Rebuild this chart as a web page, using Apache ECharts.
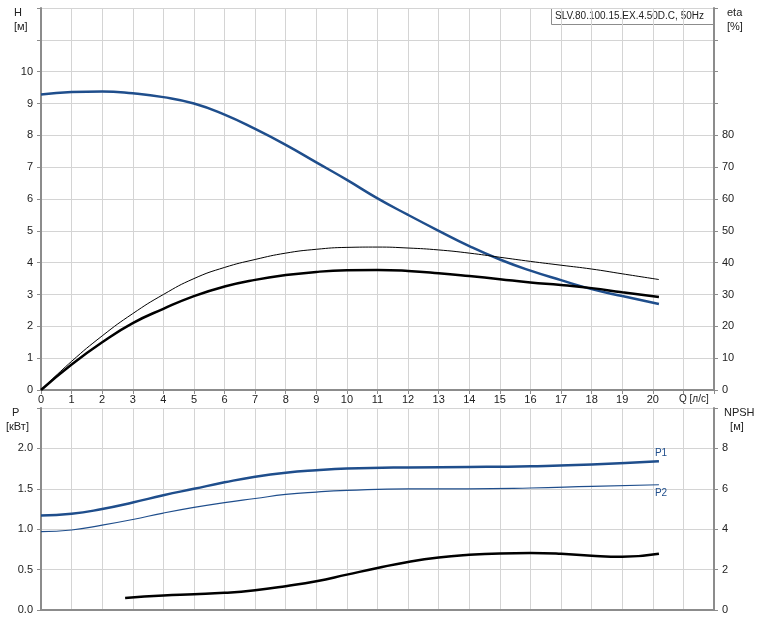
<!DOCTYPE html>
<html>
<head>
<meta charset="utf-8">
<script src="https://cdn.jsdelivr.net/npm/echarts@6/dist/echarts.min.js"></script>
<style>
  html, body { margin: 0; padding: 0; background: #fff; }
  #chart { width: 758px; height: 622px; }
</style>
</head>
<body>
<div id="chart"></div>
<script>
// Q [л/с] vs H [м]
const headCurve = [[0,9.28],[1,9.36],[2,9.38],[3,9.32],[4,9.2],[5,9.0],[6,8.65],[7,8.2],[8,7.7],[9,7.15],[10,6.6],[11,6.02],[12,5.5],[13,5.0],[14,4.52],[15,4.1],[16,3.75],[17,3.45],[18,3.17],[19,2.95],[20.2,2.7]];
// eta [%]
const etaThin = [[0,0],[1,9],[2,17],[3,24],[4,30],[5,35],[6,38.5],[7,41],[8,43],[9,44.2],[10,44.8],[11,44.9],[12,44.6],[13,44],[14,43],[15,41.7],[16,40.4],[17,39.2],[18,38],[19,36.5],[20.2,34.7]];
const etaThick = [[0,0],[1,8],[2,15],[3,21],[4,25.5],[5,29.5],[6,32.5],[7,34.6],[8,36.1],[9,37.1],[10,37.6],[11,37.7],[12,37.4],[13,36.7],[14,35.8],[15,34.8],[16,33.8],[17,33],[18,32],[19,30.7],[20.2,29.2]];
// P [кВт]
const p1Curve = [[0,1.17],[1,1.19],[2,1.25],[3,1.33],[4,1.42],[5,1.5],[6,1.58],[7,1.65],[8,1.7],[9,1.73],[10,1.75],[12,1.765],[14,1.77],[16,1.78],[18,1.8],[20.2,1.84]];
const p2Curve = [[0,0.97],[1,0.99],[2,1.05],[3,1.12],[4,1.2],[5,1.27],[6,1.33],[7,1.38],[8,1.43],[9,1.46],[10,1.48],[12,1.5],[14,1.5],[16,1.51],[18,1.53],[20.2,1.55]];
// NPSH [м]
const npshCurve = [[2.75,0.6],[4,0.72],[5,0.78],[6,0.85],[7,0.98],[8,1.18],[9,1.42],[10,1.75],[11,2.08],[12,2.38],[13,2.6],[14,2.73],[15,2.8],[16,2.82],[17,2.78],[18,2.68],[19,2.63],[20.2,2.78]];

const xTicksShown = [0,1,2,3,4,5,6,7,8,9,10,11,12,13,14,15,16,17,18,19,20];
const title = 'SLV.80.100.15.EX.4.50D.C, 50Hz';

const FONT = 'Liberation Sans';
const axisLine = { show: true, lineStyle: { color: '#8c8c8c', width: 2 } };
const splitLine = { show: true, lineStyle: { color: '#d4d4d4', width: 1 } };
const lbl = { color: '#222', fontSize: 11, fontFamily: FONT };

function xAxis(gridIndex, showLabels) {
  return {
    type: 'value', gridIndex: gridIndex, min: 0, max: 22, interval: 1,
    axisLine: axisLine, splitLine: splitLine,
    axisTick: { show: showLabels, length: 4, lineStyle: { color: '#8c8c8c' } },
    axisLabel: Object.assign({}, lbl, {
      show: showLabels, margin: 4,
      formatter: v => xTicksShown.indexOf(v) >= 0 ? String(v) : ''
    })
  };
}
function yAxis(gridIndex, pos, max, interval, labelMax, digits) {
  return {
    type: 'value', gridIndex: gridIndex, position: pos, min: 0, max: max, interval: interval,
    axisLine: axisLine, splitLine: pos === 'left' ? splitLine : { show: false },
    axisTick: { show: true, length: 4, lineStyle: { color: '#8c8c8c' } },
    axisLabel: Object.assign({}, lbl, {
      formatter: v => v <= labelMax + 1e-9 ? v.toFixed(digits) : ''
    })
  };
}

const chart = echarts.init(document.getElementById('chart'));
chart.setOption({
  animation: false,
  backgroundColor: '#fff',
  grid: [
    { left: 41, right: 44, top: 8, height: 382 },
    { left: 41, right: 44, top: 408, height: 202 }
  ],
  xAxis: [xAxis(0, true), xAxis(1, false)],
  yAxis: [
    yAxis(0, 'left', 12, 1, 10, 0),
    yAxis(0, 'right', 120, 10, 80, 0),
    yAxis(1, 'left', 2.5, 0.5, 2.0, 1),
    yAxis(1, 'right', 10, 2, 8, 0)
  ],
  graphic: [
    { type: 'text', left: 14, top: 6, style: { text: 'H\n[м]', fill: '#222', font: '11px ' + FONT, lineHeight: 14 } },
    { type: 'text', left: 727, top: 6, style: { text: 'eta\n[%]', fill: '#222', font: '11px ' + FONT, lineHeight: 14 } },
    { type: 'text', left: 6, top: 406, style: { text: '  P\n[кВт]', fill: '#222', font: '11px ' + FONT, lineHeight: 14 } },
    { type: 'text', left: 724, top: 406, style: { text: 'NPSH\n  [м]', fill: '#222', font: '11px ' + FONT, lineHeight: 14 } },
    { type: 'text', left: 679, top: 394, style: { text: 'Q [л/с]', fill: '#222', font: '10px ' + FONT } },
    { type: 'rect', shape: { x: 551.5, y: 8.5, width: 162, height: 16 }, style: { fill: '#fff', stroke: '#8c8c8c', lineWidth: 1 } },
    { type: 'text', left: 555, top: 11, style: { text: title, fill: '#222', font: '10px ' + FONT } }
  ],
  series: [
    { type: 'line', xAxisIndex: 0, yAxisIndex: 0, data: headCurve, smooth: true, showSymbol: false, lineStyle: { color: '#1f4e8c', width: 2.5 } },
    { type: 'line', xAxisIndex: 0, yAxisIndex: 1, data: etaThin, smooth: true, showSymbol: false, lineStyle: { color: '#000', width: 1 } },
    { type: 'line', xAxisIndex: 0, yAxisIndex: 1, data: etaThick, smooth: true, showSymbol: false, lineStyle: { color: '#000', width: 2.5 } },
    { type: 'line', xAxisIndex: 1, yAxisIndex: 2, data: p1Curve, smooth: true, showSymbol: false, lineStyle: { color: '#1f4e8c', width: 2.5 },
      endLabel: { show: true, formatter: 'P1', color: '#1f4e8c', fontSize: 10, fontFamily: FONT, offset: [-12, -8] } },
    { type: 'line', xAxisIndex: 1, yAxisIndex: 2, data: p2Curve, smooth: true, showSymbol: false, lineStyle: { color: '#1f4e8c', width: 1.2 },
      endLabel: { show: true, formatter: 'P2', color: '#1f4e8c', fontSize: 10, fontFamily: FONT, offset: [-12, 8] } },
    { type: 'line', xAxisIndex: 1, yAxisIndex: 3, data: npshCurve, smooth: true, showSymbol: false, lineStyle: { color: '#000', width: 2.5 } }
  ]
});
</script>
</body>
</html>
